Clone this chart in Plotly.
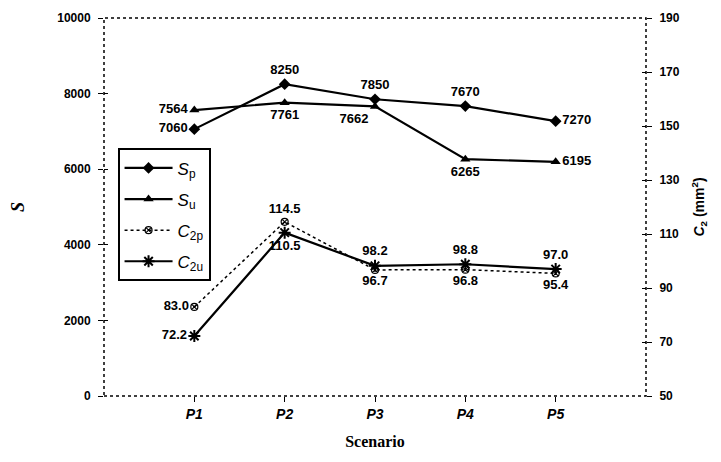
import plotly.graph_objects as go

scenarios = ["P1", "P2", "P3", "P4", "P5"]
xpos = [1, 2, 3, 4, 5]
S_p = [7060, 8250, 7850, 7670, 7270]
S_u = [7564, 7761, 7662, 6265, 6195]
C2p = [83.0, 114.5, 96.7, 96.8, 95.4]
C2u = [72.2, 110.5, 98.2, 98.8, 97.0]

left_ticks = [0, 2000, 4000, 6000, 8000, 10000]
right_ticks = [50, 70, 90, 110, 130, 150, 170, 190]

S_p_pos = ["middle left", "top center", "top center", "top center", "middle right"]
S_u_pos = ["middle left", "bottom center", "bottom left", "bottom center", "middle right"]
C2p_pos = ["middle left", "top center", "bottom center", "bottom center", "bottom center"]
C2u_pos = ["middle left", "bottom center", "top center", "top center", "top center"]

lab_font = dict(family="Liberation Sans", size=13, color="black", weight="bold")

fig = go.Figure()
fig.add_trace(go.Scatter(
    x=xpos, y=S_p, name="<i>S</i><sub>p</sub>", mode="lines+markers+text",
    legendgroup="a",
    line=dict(color="black", width=2.2),
    marker=dict(symbol="diamond", size=9, color="black"),
    text=[str(v) for v in S_p], textposition=S_p_pos, textfont=lab_font,
    yaxis="y"))
fig.add_trace(go.Scatter(
    x=xpos, y=S_u, name="<i>S</i><sub>u</sub>", mode="lines+markers+text",
    legendgroup="b",
    line=dict(color="black", width=2.2),
    marker=dict(symbol="triangle-up", size=9, color="black"),
    text=[str(v) for v in S_u], textposition=S_u_pos, textfont=lab_font,
    yaxis="y"))
fig.add_trace(go.Scatter(
    x=xpos, y=C2p, name="<i>C</i><sub>2p</sub>", mode="lines+markers+text",
    legendgroup="c",
    line=dict(color="black", width=1.5, dash="dot"),
    marker=dict(symbol="circle-x-open", size=7, color="black", line=dict(width=1.2)),
    text=[f"{v:.1f}" for v in C2p], textposition=C2p_pos, textfont=lab_font,
    yaxis="y2"))
fig.add_trace(go.Scatter(
    x=xpos, y=C2u, name="<i>C</i><sub>2u</sub>", mode="lines+markers+text",
    legendgroup="d",
    line=dict(color="black", width=2.2),
    marker=dict(symbol="asterisk-open", size=10, color="black", line=dict(width=2)),
    text=[f"{v:.1f}" for v in C2u], textposition=C2u_pos, textfont=lab_font,
    yaxis="y2"))
# empty helper traces so the inner tick axes are drawn
fig.add_trace(go.Scatter(x=[], y=[], yaxis="y3", showlegend=False, hoverinfo="skip"))
fig.add_trace(go.Scatter(x=[], y=[], yaxis="y4", showlegend=False, hoverinfo="skip"))

tickfont = dict(family="Liberation Sans", size=12, color="black")

fig.update_layout(
    width=721, height=462,
    margin=dict(l=92, r=83, t=10, b=74),
    paper_bgcolor="white", plot_bgcolor="white",
    showlegend=True,
    legend=dict(x=0.025, y=0.655, xanchor="left", yanchor="top",
                bordercolor="black", borderwidth=2, bgcolor="white",
                font=dict(family="Liberation Sans", size=17, color="black"),
                tracegroupgap=6, itemwidth=48),
    xaxis=dict(range=[0, 6], tickvals=xpos, ticktext=[f"<b><i>{s}</i></b>" for s in scenarios],
               showgrid=False, zeroline=False, showline=False, automargin="bottom",
               ticks="outside", ticklen=5, tickcolor="black",
               tickfont=dict(family="Liberation Sans", size=14, color="black"),
               title=dict(text="<b>Scenario</b>", standoff=15,
                          font=dict(family="Liberation Serif", size=16, color="black"))),
    yaxis=dict(range=[0, 10000], tickvals=left_ticks,
               ticktext=[f"<b>{v}</b>" for v in left_ticks],
               showgrid=False, zeroline=False, showline=False, automargin="left",
               ticks="outside", ticklen=5, tickcolor="black", tickfont=tickfont,
               ticklabelstandoff=5,
               title=dict(text="<b><i>S</i></b>", standoff=27,
                          font=dict(family="Liberation Serif", size=18, color="black"))),
    yaxis2=dict(range=[50, 190], tickvals=right_ticks,
                ticktext=[f"<b>{v}</b>" for v in right_ticks],
                overlaying="y", side="right", automargin="right",
                showgrid=False, zeroline=False, showline=False,
                ticks="outside", ticklen=5, tickcolor="black", tickfont=tickfont,
                ticklabelstandoff=5,
                title=dict(text="<b><i>C</i><sub>2</sub> (mm<sup>2</sup>)</b>", standoff=15,
                           font=dict(family="Liberation Sans", size=14, color="black"))),
    yaxis3=dict(range=[0, 10000], tickvals=left_ticks, showticklabels=False,
                overlaying="y", side="left", showgrid=False, zeroline=False, showline=False,
                automargin=False, ticks="inside", ticklen=4, tickcolor="black"),
    yaxis4=dict(range=[50, 190], tickvals=right_ticks, showticklabels=False,
                overlaying="y", side="right", showgrid=False, zeroline=False, showline=False,
                automargin=False, ticks="inside", ticklen=4, tickcolor="black"),
    shapes=[dict(type="rect", xref="paper", yref="paper", x0=0, x1=1, y0=0, y1=1,
                 line=dict(color="black", width=1.5, dash="dot"), layer="above")],
)

fig.write_html("out.html")
